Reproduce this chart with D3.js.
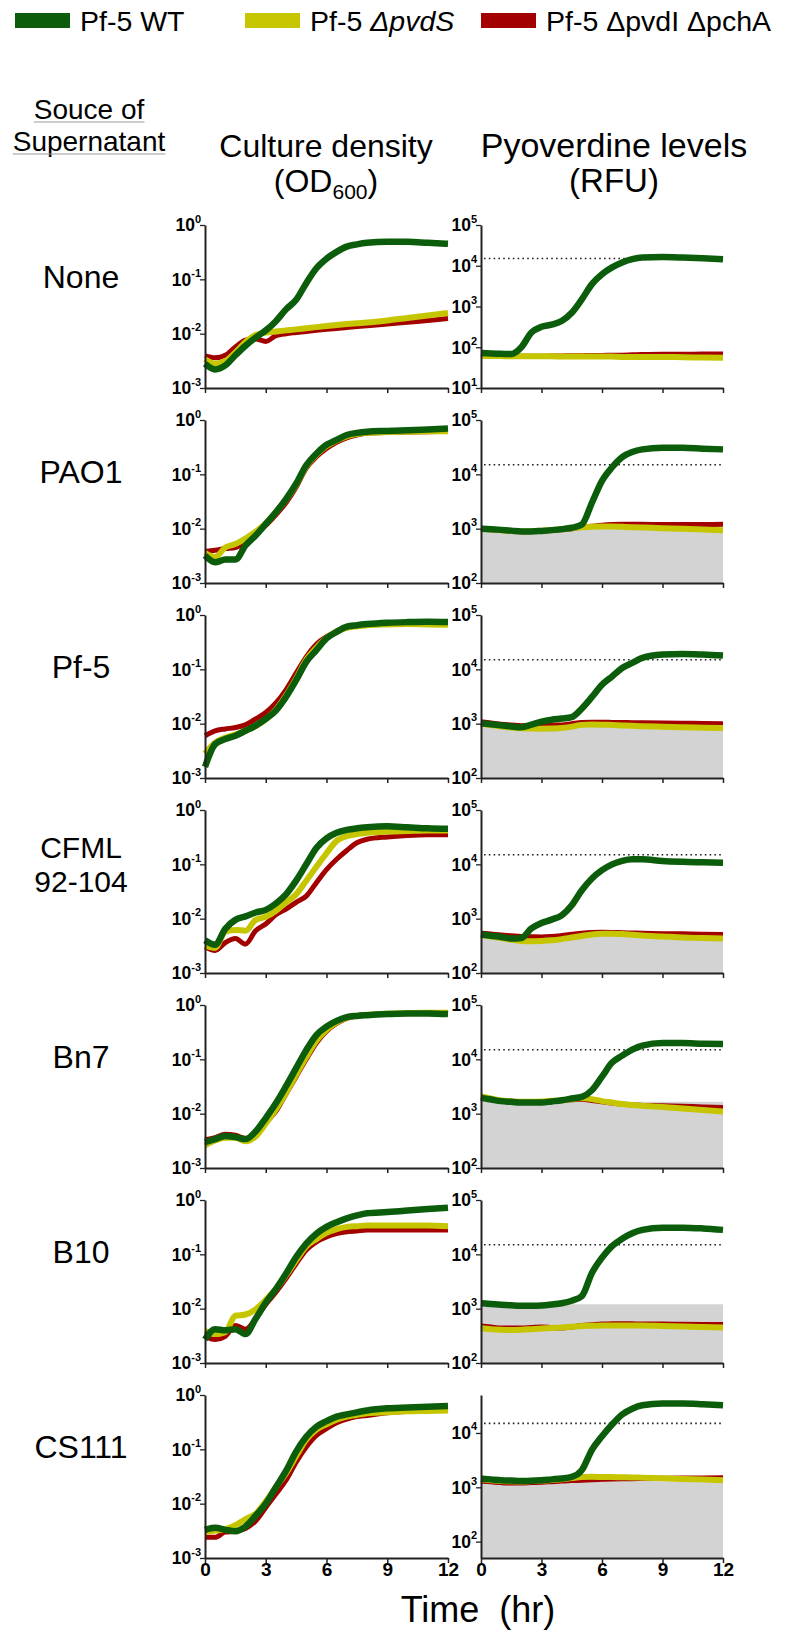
<!DOCTYPE html>
<html><head><meta charset="utf-8">
<script src="https://cdn.jsdelivr.net/npm/d3@7"></script>
<style>
body{margin:0;background:#fff}
svg{display:block}
text{font-family:"Liberation Sans",Arial,Helvetica,sans-serif;fill:#000}
</style>
</head><body>
<svg id="c" width="785" height="1648"></svg>
<script>
// ---------------- DATA ----------------
const hours = [0,0.5,1,1.5,2,2.5,3,3.5,4,4.5,5,5.5,6,6.5,7,7.5,8,9,10,11,12];
const sources = ["None","PAO1","Pf-5","CFML|92-104","Bn7","B10","CS111"];
const strains = ["Pf-5 WT","Pf-5 ΔpvdS","Pf-5 ΔpvdI ΔpchA"];
const xTicks = [0,3,6,9,12];
const odDomain = [0.001,1];
const rfuMin = [10,100,100,100,100,100,50];
const rfuMax = [1e5,1e5,1e5,1e5,1e5,1e5,5e4];
const rfuThreshold = 15000;

// Culture density (OD600)
const odWT_None   = [0.0028,0.0022,0.0026,0.0040,0.0060,0.0085,0.0115,0.017,0.028,0.042,0.085,0.16,0.24,0.32,0.40,0.44,0.47,0.49,0.49,0.47,0.45];
const odS_None    = [0.0034,0.0028,0.0031,0.0045,0.0070,0.0095,0.0105,0.0110,0.0115,0.0120,0.0126,0.0132,0.0138,0.0144,0.0150,0.0155,0.0160,0.0175,0.0195,0.0215,0.024];
const odI_None    = [0.0039,0.0036,0.0040,0.0057,0.0076,0.0080,0.0072,0.0092,0.0100,0.0105,0.0110,0.0115,0.0120,0.0125,0.0130,0.0135,0.0140,0.0150,0.0162,0.0175,0.019];
const odWT_PAO1   = [0.0032,0.0024,0.0027,0.0027,0.0049,0.0075,0.0122,0.020,0.035,0.067,0.147,0.24,0.35,0.43,0.53,0.58,0.61,0.63,0.65,0.67,0.70];
const odS_PAO1    = [0.0036,0.0030,0.0045,0.0052,0.0066,0.0088,0.0125,0.020,0.034,0.064,0.14,0.23,0.33,0.42,0.50,0.55,0.58,0.60,0.61,0.62,0.62];
const odI_PAO1    = [0.0038,0.0040,0.0043,0.0045,0.0056,0.0080,0.0115,0.018,0.030,0.058,0.13,0.21,0.30,0.39,0.47,0.53,0.57,0.59,0.60,0.61,0.62];
const odWT_Pf5    = [0.0016,0.0042,0.0052,0.0060,0.0074,0.0092,0.0122,0.0174,0.031,0.063,0.137,0.225,0.37,0.49,0.61,0.65,0.68,0.72,0.74,0.75,0.74];
const odS_Pf5     = [0.0028,0.0045,0.0055,0.0063,0.0074,0.0090,0.0120,0.018,0.033,0.068,0.15,0.25,0.38,0.50,0.58,0.62,0.65,0.67,0.68,0.67,0.66];
const odI_Pf5     = [0.0060,0.0074,0.0080,0.0085,0.0095,0.0122,0.016,0.024,0.042,0.085,0.17,0.29,0.40,0.49,0.58,0.63,0.66,0.69,0.70,0.71,0.70];
const odWT_CFML   = [0.0040,0.0033,0.0065,0.0095,0.0110,0.0130,0.0145,0.019,0.028,0.050,0.10,0.20,0.30,0.38,0.43,0.46,0.48,0.50,0.48,0.46,0.45];
const odS_CFML    = [0.0032,0.0029,0.0058,0.0062,0.0060,0.0095,0.0108,0.0140,0.020,0.028,0.050,0.09,0.16,0.27,0.33,0.36,0.38,0.40,0.41,0.42,0.42];
const odI_CFML    = [0.0030,0.0026,0.0036,0.0043,0.0034,0.0060,0.0080,0.0118,0.015,0.020,0.026,0.046,0.08,0.124,0.18,0.25,0.29,0.32,0.34,0.35,0.35];
const odWT_Bn7    = [0.0030,0.0034,0.0039,0.0037,0.0034,0.0047,0.0083,0.0155,0.032,0.069,0.148,0.28,0.40,0.51,0.60,0.63,0.65,0.68,0.70,0.70,0.68];
const odS_Bn7     = [0.0026,0.0032,0.0036,0.0036,0.0031,0.0038,0.0066,0.012,0.024,0.052,0.11,0.22,0.35,0.48,0.58,0.63,0.66,0.69,0.71,0.72,0.72];
const odI_Bn7     = [0.0033,0.0036,0.0042,0.0040,0.0035,0.0040,0.0068,0.011,0.023,0.048,0.10,0.20,0.33,0.46,0.57,0.62,0.65,0.68,0.70,0.71,0.72];
const odWT_B10    = [0.0027,0.0042,0.0040,0.0042,0.0034,0.0065,0.013,0.023,0.044,0.089,0.158,0.24,0.32,0.39,0.46,0.52,0.57,0.60,0.64,0.68,0.72];
const odS_B10     = [0.0039,0.0034,0.0037,0.0074,0.0078,0.0097,0.0145,0.023,0.041,0.077,0.14,0.19,0.25,0.29,0.32,0.33,0.34,0.34,0.34,0.34,0.33];
const odI_B10     = [0.0031,0.0027,0.0031,0.0049,0.0042,0.0065,0.012,0.020,0.036,0.067,0.12,0.17,0.21,0.24,0.26,0.27,0.28,0.28,0.28,0.28,0.28];
const odWT_CS111  = [0.0033,0.0036,0.0033,0.0031,0.0038,0.0060,0.0100,0.020,0.040,0.091,0.17,0.26,0.33,0.40,0.44,0.48,0.52,0.57,0.59,0.61,0.63];
const odS_CS111   = [0.0030,0.0032,0.0034,0.0040,0.0052,0.0065,0.0110,0.020,0.036,0.075,0.15,0.23,0.29,0.35,0.40,0.43,0.46,0.48,0.50,0.51,0.52];
const odI_CS111   = [0.0024,0.0024,0.0030,0.0031,0.0035,0.0048,0.0085,0.015,0.027,0.058,0.11,0.18,0.24,0.31,0.36,0.40,0.42,0.47,0.50,0.53,0.55];

// Pyoverdine levels (RFU)
const rfuWT_None  = [72,70,69,68,100,230,317,360,440,700,1500,3540,6200,9100,12000,14500,15900,16300,15900,15300,14500];
const rfuS_None   = [62,61,61,60,60,60,60,60,59,59,59,59,59,59,58,58,58,58,57,56,55];
const rfuI_None   = [66,64,62,61,60,60,60,61,61,62,62,63,63,64,64,65,66,67,67,68,68];
const rfuWT_PAO1  = [1000,975,950,920,890,890,910,940,980,1040,1190,3000,7600,13500,20800,25800,28800,31000,31000,29700,28800];
const rfuS_PAO1   = [1000,960,930,905,890,900,920,950,980,1020,1060,1090,1100,1095,1080,1065,1050,1020,1000,970,940];
const rfuI_PAO1   = [1010,970,940,905,880,890,910,930,950,1000,1060,1110,1160,1190,1200,1200,1200,1190,1190,1190,1200];
const bg_PAO1     = [970,930,900,870,850,860,880,900,930,960,990,1010,1020,1010,1000,990,980,960,940,920,900];
const rfuWT_Pf5   = [1020,975,930,890,860,960,1090,1180,1240,1320,1900,3100,5200,7400,10600,13100,16200,18700,19200,18700,17900];
const rfuS_Pf5    = [1000,940,890,850,820,815,810,815,830,880,950,965,960,945,930,915,900,880,860,845,830];
const rfuI_Pf5    = [1080,1030,980,950,920,925,930,940,950,1000,1050,1060,1060,1055,1050,1045,1040,1030,1020,1010,1000];
const bg_Pf5      = [950,900,860,830,800,795,790,795,810,860,900,915,920,905,890,880,870,850,830,800,780];
const rfuWT_CFML  = [510,485,460,430,440,660,835,960,1150,1760,3330,5500,7800,10000,11600,12400,12400,11500,11100,10900,10700];
const rfuS_CFML   = [500,470,440,410,390,385,390,400,420,450,480,510,530,530,520,505,490,470,450,440,430];
const rfuI_CFML   = [540,520,500,485,470,465,460,470,490,515,540,555,560,558,550,545,540,530,525,518,510];
const bg_CFML     = [540,510,480,460,450,440,430,440,450,475,500,515,520,515,505,495,490,475,460,450,440];
const rfuWT_Bn7   = [1950,1820,1700,1650,1600,1600,1600,1680,1770,1900,2040,2700,4800,8700,11700,15100,17900,19900,19900,19400,19200];
const rfuS_Bn7    = [2100,1900,1750,1700,1650,1660,1680,1720,1750,1850,1950,1850,1700,1600,1500,1450,1400,1330,1250,1170,1100];
const rfuI_Bn7    = [2000,1850,1720,1680,1650,1660,1680,1710,1750,1800,1850,1750,1650,1570,1500,1450,1420,1400,1370,1330,1300];
const bg_Bn7      = [1650,1650,1650,1650,1650,1650,1650,1650,1650,1650,1650,1650,1650,1650,1650,1650,1650,1650,1650,1650,1650];
const rfuWT_B10   = [1260,1220,1180,1150,1130,1130,1140,1190,1260,1400,1700,4550,8700,14200,19400,24500,28200,31000,31000,30000,28200];
const rfuS_B10    = [436,420,410,405,410,420,430,440,450,465,480,485,490,490,490,490,490,480,470,460,450];
const rfuI_B10    = [480,460,440,440,440,450,460,450,440,460,490,505,520,525,530,525,520,520,515,512,510];
const bg_B10      = [1200,1200,1200,1200,1200,1200,1200,1200,1200,1200,1200,1200,1200,1200,1200,1200,1200,1200,1200,1200,1200];
const rfuWT_CS111 = [1450,1400,1350,1330,1310,1320,1350,1400,1450,1550,2070,4900,8700,14300,21900,28000,32300,34700,34700,33700,32300];
const rfuS_CS111  = [1400,1350,1310,1290,1280,1300,1330,1360,1400,1480,1550,1560,1550,1540,1530,1520,1500,1470,1420,1390,1350];
const rfuI_CS111  = [1300,1260,1220,1200,1200,1220,1240,1270,1300,1330,1350,1380,1400,1420,1430,1440,1450,1470,1480,1490,1500];
const bg_CS111    = [1200,1180,1160,1150,1150,1170,1190,1220,1250,1270,1290,1300,1300,1300,1300,1300,1300,1290,1270,1240,1200];

// ---------------- TABLE ----------------
const odWT  = [odWT_None,odWT_PAO1,odWT_Pf5,odWT_CFML,odWT_Bn7,odWT_B10,odWT_CS111];
const odS   = [odS_None,odS_PAO1,odS_Pf5,odS_CFML,odS_Bn7,odS_B10,odS_CS111];
const odI   = [odI_None,odI_PAO1,odI_Pf5,odI_CFML,odI_Bn7,odI_B10,odI_CS111];
const rfuWT = [rfuWT_None,rfuWT_PAO1,rfuWT_Pf5,rfuWT_CFML,rfuWT_Bn7,rfuWT_B10,rfuWT_CS111];
const rfuS  = [rfuS_None,rfuS_PAO1,rfuS_Pf5,rfuS_CFML,rfuS_Bn7,rfuS_B10,rfuS_CS111];
const rfuI  = [rfuI_None,rfuI_PAO1,rfuI_Pf5,rfuI_CFML,rfuI_Bn7,rfuI_B10,rfuI_CS111];
const bg    = [null,bg_PAO1,bg_Pf5,bg_CFML,bg_Bn7,bg_B10,bg_CS111];

// ---------------- STYLE / LAYOUT ----------------
const colors = ["#0b5d0b","#c6c600","#a30000"];
const widths = [6.5,6,5];
const FONT = '"Liberation Sans",Arial,Helvetica,sans-serif';
const svg = d3.select("#c");
const odX = [205,448], rfuX = [481,723];
const TOP0 = 225, PITCH = 195, H = 163;

// legend
const legX = [15,245,481];
strains.forEach((s,i)=>{
  svg.append("rect").attr("x",legX[i]).attr("y",13).attr("width",55).attr("height",15).attr("fill",colors[i]);
  const t = svg.append("text").attr("x",legX[i]+65).attr("y",31).attr("font-size",28.5);
  if(i===1){ t.append("tspan").text("Pf-5 "); t.append("tspan").attr("font-style","italic").text("ΔpvdS"); }
  else t.text(s);
});

// headers
function underlined(txt,cx,y,size){
  const t = svg.append("text").attr("x",cx).attr("y",y).attr("text-anchor","middle").attr("font-size",size).text(txt);
  const bb = t.node().getBBox();
  svg.append("line").attr("x1",bb.x).attr("x2",bb.x+bb.width).attr("y1",y+3).attr("y2",y+3).attr("stroke","#999").attr("stroke-width",1);
}
underlined("Souce of",89,119,28);
underlined("Supernatant",89,151,28);
svg.append("text").attr("x",326).attr("y",157).attr("text-anchor","middle").attr("font-size",32).text("Culture density");
const od600 = svg.append("text").attr("x",326).attr("y",192).attr("text-anchor","middle").attr("font-size",32);
od600.append("tspan").text("(OD");
od600.append("tspan").attr("font-size",21).attr("dy",7).text("600");
od600.append("tspan").attr("dy",-7).text(")");
svg.append("text").attr("x",614).attr("y",157).attr("text-anchor","middle").attr("font-size",34).text("Pyoverdine levels");
svg.append("text").attr("x",614).attr("y",192).attr("text-anchor","middle").attr("font-size",33).text("(RFU)");

// helpers
function logTicks(lo,hi){
  const maj=[],min=[];
  for(let e=Math.floor(Math.log10(lo));e<=Math.ceil(Math.log10(hi));e++){
    for(let k=1;k<10;k++){
      const v=k*Math.pow(10,e);
      if(v<lo*0.999||v>hi*1.001) continue;
      (k===1?maj:min).push(v);
    }
  }
  return {maj,min};
}

function panel(row, xr, domain, series, bgSeries, dotted, isLast){
  const top = TOP0 + row*PITCH, bot = top + H;
  const x = d3.scaleLinear().domain([0,12]).range(xr);
  const y = d3.scaleLog().domain(domain).range([bot,top]);
  const g = svg.append("g");
  if(bgSeries){
    const area = d3.area().x((d,i)=>x(hours[i])).y0(bot).y1(d=>y(d)).curve(d3.curveMonotoneX);
    g.append("path").datum(bgSeries).attr("d",area).attr("fill","#d3d3d3");
  }
  if(dotted){
    g.append("line").attr("x1",x(0)+3).attr("x2",x(12)).attr("y1",y(rfuThreshold)).attr("y2",y(rfuThreshold))
      .attr("stroke","#222").attr("stroke-width",1.6).attr("stroke-dasharray","1.6,3.2");
  }
  const line = d3.line().x((d,i)=>x(hours[i])).y(d=>y(d)).curve(d3.curveMonotoneX);
  [2,1,0].forEach(k=>{
    g.append("path").datum(series[k]).attr("d",line).attr("fill","none")
      .attr("stroke",colors[k]).attr("stroke-width",widths[k]).attr("stroke-linejoin","round");
  });
  // y axis
  const {maj,min} = logTicks(domain[0],domain[1]);
  const ax = g.append("g").attr("transform",`translate(${xr[0]},0)`);
  ax.call(d3.axisLeft(y).tickValues(min).tickSize(3).tickSizeOuter(0).tickFormat(""));
  ax.call(d3.axisLeft(y).tickValues(maj).tickSize(5).tickSizeOuter(0).tickFormat(""));
  ax.selectAll(".domain").attr("stroke","#222").attr("stroke-width",2);
  ax.selectAll(".tick line").attr("stroke","#222").attr("stroke-width",1.3);
  g.selectAll(null).data(maj).join("text")
    .attr("x",xr[0]-4).attr("y",d=>y(d)).attr("dy","0.36em").attr("text-anchor","end")
    .attr("font-weight","bold").attr("font-size",17.5)
    .each(function(d){
      const t=d3.select(this);
      t.append("tspan").text("10");
      t.append("tspan").attr("font-size",11).attr("dy","-0.8em").text(Math.round(Math.log10(d)));
    });
  // x axis
  const bx = g.append("g").attr("transform",`translate(0,${bot})`);
  bx.call(d3.axisBottom(x).tickValues(xTicks).tickSize(5).tickSizeOuter(0).tickFormat(isLast?d3.format("d"):""));
  bx.selectAll(".domain").attr("stroke","#222").attr("stroke-width",2);
  bx.selectAll(".tick line").attr("stroke","#222").attr("stroke-width",1.5);
  bx.selectAll(".tick text").attr("font-family",FONT).attr("font-weight","bold").attr("font-size",19).attr("fill","#000").attr("dy","0.5em");
}

sources.forEach((s,i)=>{
  const top = TOP0 + i*PITCH;
  const parts = s.split("|");
  if(parts.length===1){
    svg.append("text").attr("x",81).attr("y",top+52).attr("dy","0.35em").attr("text-anchor","middle").attr("font-size",32).text(s);
  } else {
    parts.forEach((p,j)=>svg.append("text").attr("x",81).attr("y",top+37+j*34).attr("dy","0.35em").attr("text-anchor","middle").attr("font-size",30).text(p));
  }
  const last = i===sources.length-1;
  panel(i, odX, odDomain, [odWT[i],odS[i],odI[i]], null, false, last);
  panel(i, rfuX, [rfuMin[i],rfuMax[i]], [rfuWT[i],rfuS[i],rfuI[i]], bg[i], true, last);
});

svg.append("text").attr("x",478).attr("y",1622).attr("text-anchor","middle").attr("font-size",36).attr("xml:space","preserve").text("Time  (hr)");
</script>
</body></html>
